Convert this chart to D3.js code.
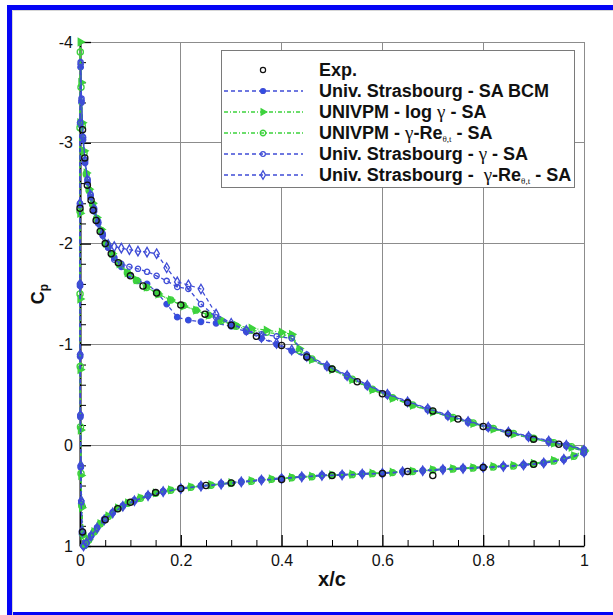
<!DOCTYPE html>
<html>
<head>
<meta charset="utf-8">
<script src="https://cdn.jsdelivr.net/npm/d3@7"></script>
<style>
  html, body { margin: 0; padding: 0; background: #fff; }
  svg { display: block; }
</style>
</head>
<body>
<svg id="chart" width="613" height="615"></svg>
<script>
// ---- Axis ticks ----
const xTicks = [0, 0.2, 0.4, 0.6, 0.8, 1];
const xMinorTicks = [0.05, 0.1, 0.15, 0.25, 0.3, 0.35, 0.45, 0.5, 0.55, 0.65, 0.7, 0.75, 0.85, 0.9, 0.95];
const yTicks = [-4, -3, -2, -1, 0, 1];
const yMinorTicks = [-3.8, -3.6, -3.4, -3.2, -2.8, -2.6, -2.4, -2.2, -1.8, -1.6, -1.4, -1.2,
                     -0.8, -0.6, -0.4, -0.2, 0.2, 0.4, 0.6, 0.8];

// ---- Experiment ----
const expUpperX  = [0.0, 0.005, 0.0095, 0.0146, 0.022, 0.026, 0.032, 0.04, 0.05, 0.062, 0.076, 0.1, 0.125, 0.152,
                    0.2, 0.248, 0.3, 0.35, 0.4, 0.45, 0.5, 0.55, 0.6, 0.65, 0.7, 0.75, 0.8, 0.85, 0.9, 0.95];
const expUpperCp = [-2.35, -3.13, -2.85, -2.58, -2.43, -2.33, -2.23, -2.12, -2.0, -1.9, -1.81, -1.68, -1.58, -1.51,
                    -1.39, -1.3, -1.19, -1.08, -0.99, -0.875, -0.755, -0.63, -0.51, -0.42, -0.34, -0.26, -0.185, -0.12, -0.06, -0.01];
const expLowerX  = [0.005, 0.05, 0.075, 0.1, 0.15, 0.2, 0.25, 0.3, 0.4, 0.5, 0.6, 0.65, 0.7, 0.8, 0.9];
const expLowerCp = [0.86, 0.74, 0.63, 0.567, 0.47, 0.43, 0.4, 0.375, 0.34, 0.3, 0.28, 0.26, 0.3, 0.22, 0.19];

// ---- Univ. Strasbourg stations (lower: trailing edge -> stagnation; upper: nose -> trailing edge) ----
const strasLowerX = [1.0, 0.96, 0.92, 0.88, 0.84, 0.80, 0.76, 0.72, 0.68, 0.64, 0.60, 0.56, 0.52, 0.48, 0.44, 0.40,
                     0.36, 0.32, 0.28, 0.24, 0.20, 0.165, 0.135, 0.108, 0.085, 0.065, 0.048, 0.034, 0.022, 0.013, 0.007];
const strasUpperX = [0.004, 0.0025, 0.0015, 0.0008, 0.0003, 0.0001, 0.0, 0.0003, 0.0012, 0.003, 0.006, 0.010, 0.015,
                     0.021, 0.028, 0.036, 0.045, 0.056, 0.068, 0.082, 0.098, 0.115, 0.133, 0.152, 0.172, 0.193, 0.215,
                     0.24, 0.27, 0.30, 0.33, 0.36, 0.39, 0.42, 0.45, 0.49, 0.53, 0.57, 0.61, 0.65, 0.69, 0.73, 0.77,
                     0.81, 0.85, 0.89, 0.93, 0.965, 1.0];

// SA BCM
const bcmLowerCp = [0.06, 0.135, 0.17, 0.19, 0.205, 0.215, 0.225, 0.235, 0.25, 0.26, 0.275, 0.28, 0.29, 0.295, 0.31, 0.325,
                    0.34, 0.36, 0.38, 0.40, 0.425, 0.455, 0.495, 0.545, 0.60, 0.665, 0.735, 0.815, 0.895, 0.965, 1.0];
const bcmUpperCp = [0.88, 0.58, 0.22, -0.28, -0.88, -1.58, -2.38, -3.18, -3.75, -3.4, -3.03, -2.8, -2.61,
                    -2.46, -2.32, -2.2, -2.08, -1.96, -1.86, -1.77, -1.69, -1.63, -1.60, -1.52, -1.40, -1.27, -1.24,
                    -1.225, -1.21, -1.18, -1.125, -1.06, -1.0, -0.935, -0.87, -0.775, -0.68, -0.585, -0.495, -0.42, -0.35, -0.285, -0.225,
                    -0.17, -0.12, -0.075, -0.03, 0.01, 0.06];

// gamma - SA
const gsaLowerCp = [0.08, 0.145, 0.18, 0.2, 0.212, 0.222, 0.232, 0.243, 0.256, 0.267, 0.28, 0.288, 0.297, 0.303, 0.317, 0.332,
                    0.348, 0.367, 0.388, 0.408, 0.433, 0.463, 0.503, 0.553, 0.608, 0.673, 0.743, 0.823, 0.903, 0.972, 1.0];
const gsaUpperCp = [0.86, 0.56, 0.21, -0.3, -0.9, -1.6, -2.4, -3.2, -3.8, -3.44, -3.06, -2.83, -2.64,
                    -2.49, -2.35, -2.22, -2.1, -1.96, -1.84, -1.80, -1.77, -1.75, -1.72, -1.68, -1.63, -1.57, -1.55,
                    -1.40, -1.27, -1.20, -1.14, -1.10, -1.08, -1.06, -0.90, -0.79, -0.695, -0.60, -0.51, -0.435, -0.365, -0.30, -0.24,
                    -0.185, -0.135, -0.09, -0.045, -0.005, 0.04];

// gamma-Re_theta,t - SA
const greLowerCp = [0.07, 0.14, 0.176, 0.196, 0.21, 0.221, 0.231, 0.241, 0.254, 0.264, 0.278, 0.286, 0.295, 0.301, 0.314, 0.33,
                    0.346, 0.364, 0.386, 0.406, 0.431, 0.461, 0.5, 0.551, 0.606, 0.671, 0.741, 0.821, 0.9, 0.97, 1.0];
const greUpperCp = [0.85, 0.55, 0.2, -0.3, -0.9, -1.6, -2.4, -3.2, -3.78, -3.42, -3.05, -2.82, -2.63,
                    -2.48, -2.34, -2.21, -2.09, -1.99, -1.97, -1.955, -1.94, -1.925, -1.915, -1.90, -1.76, -1.62, -1.59,
                    -1.55, -1.30, -1.21, -1.14, -1.07, -1.01, -0.945, -0.88, -0.785, -0.69, -0.595, -0.505, -0.43, -0.36, -0.295, -0.235,
                    -0.18, -0.13, -0.085, -0.04, 0.0, 0.05];

// ---- UNIVPM stations ----
const univpmLowerX = [1.0, 0.98, 0.94, 0.90, 0.86, 0.82, 0.78, 0.74, 0.70, 0.66, 0.62, 0.58, 0.54, 0.50, 0.46, 0.42,
                      0.38, 0.34, 0.30, 0.26, 0.22, 0.18, 0.15, 0.12, 0.095, 0.075, 0.056, 0.04, 0.028, 0.017, 0.009];
const univpmUpperX = [0.006, 0.0035, 0.002, 0.001, 0.0004, 0.0001, 0.0, 0.0, 0.0006, 0.002, 0.0045, 0.008, 0.0125,
                      0.018, 0.025, 0.033, 0.042, 0.052, 0.064, 0.078, 0.094, 0.112, 0.132, 0.155, 0.18, 0.205,
                      0.23, 0.255, 0.28, 0.31, 0.34, 0.37, 0.40, 0.42, 0.435, 0.46, 0.50, 0.54, 0.58, 0.62, 0.66,
                      0.70, 0.74, 0.78, 0.82, 0.86, 0.90, 0.94, 0.975, 1.0];

// log gamma - SA
const lgLowerCp = [0.05, 0.105, 0.15, 0.18, 0.2, 0.21, 0.222, 0.232, 0.243, 0.257, 0.268, 0.278, 0.288, 0.296, 0.308, 0.32,
                   0.335, 0.353, 0.373, 0.393, 0.413, 0.443, 0.473, 0.522, 0.572, 0.622, 0.702, 0.778, 0.858, 0.938, 0.99];
const lgUpperCp = [0.9, 0.62, 0.3, -0.15, -0.75, -1.45, -2.3, -3.2, -4.0, -3.6, -3.2, -2.92, -2.7,
                   -2.54, -2.4, -2.26, -2.14, -2.0, -1.9, -1.80, -1.71, -1.64, -1.57, -1.50, -1.44, -1.38,
                   -1.34, -1.29, -1.24, -1.19, -1.16, -1.14, -1.12, -1.10, -0.96, -0.85, -0.75, -0.65, -0.55, -0.465, -0.395,
                   -0.33, -0.27, -0.215, -0.16, -0.11, -0.065, -0.02, 0.02, 0.06];

// gamma-Re_theta,t - SA
const grLowerCp = [0.06, 0.11, 0.157, 0.187, 0.206, 0.217, 0.227, 0.237, 0.247, 0.262, 0.272, 0.282, 0.292, 0.299, 0.312, 0.324,
                   0.339, 0.357, 0.377, 0.397, 0.417, 0.447, 0.477, 0.527, 0.577, 0.627, 0.707, 0.782, 0.862, 0.942, 0.995];
const grUpperCp = [0.88, 0.6, 0.28, -0.18, -0.78, -1.5, -2.32, -3.15, -3.9, -3.55, -3.17, -2.9, -2.69,
                   -2.53, -2.39, -2.25, -2.13, -2.0, -1.9, -1.8, -1.71, -1.635, -1.565, -1.5, -1.44, -1.385,
                   -1.34, -1.29, -1.235, -1.18, -1.14, -1.12, -1.10, -1.08, -0.94, -0.855, -0.755, -0.655, -0.555, -0.47, -0.40,
                   -0.335, -0.275, -0.22, -0.165, -0.115, -0.07, -0.025, 0.015, 0.055];

// ---- Legend labels ----
const seriesNames = ["Exp.", "Univ. Strasbourg - SA BCM", "UNIVPM - log γ - SA", "UNIVPM - γ-Reθ,t - SA",
                     "Univ. Strasbourg - γ - SA", "Univ. Strasbourg -  γ-Reθ,t - SA"];

// ---- Styling ----
const BLUE = "#3f4cd6";
const BLUE_MK = "#2f4fe4";
const GREEN = "#3dd23d";
const FONT = "'Liberation Sans', Arial, Helvetica, sans-serif";

const svg = d3.select("#chart");
svg.append("rect").attr("width", 613).attr("height", 615).attr("fill", "#fff");

// page frame
svg.append("rect").attr("x", 7).attr("y", 5).attr("width", 606).attr("height", 5).attr("fill", "#0505f5");
svg.append("rect").attr("x", 7).attr("y", 5).attr("width", 5).attr("height", 610).attr("fill", "#0505f5");
svg.append("rect").attr("x", 7).attr("y", 612).attr("width", 606).attr("height", 3).attr("fill", "#0505f5");
svg.append("path").attr("d", "M12.5,615V10.5H613").attr("fill", "none").attr("stroke", "#d6d6d6").attr("stroke-width", 1);

const x = d3.scaleLinear().domain([0, 1]).range([80, 584]);
const y = d3.scaleLinear().domain([-4, 1]).range([42, 546]);

// grid
const grid = svg.append("g").attr("stroke", "#8c8c8c").attr("stroke-width", 1).attr("shape-rendering", "crispEdges");
grid.selectAll("line.v").data(xTicks).join("line").attr("class", "v")
  .attr("x1", d => x(d)).attr("x2", d => x(d)).attr("y1", y(-4)).attr("y2", y(1));
grid.selectAll("line.h").data(yTicks).join("line").attr("class", "h")
  .attr("y1", d => y(d)).attr("y2", d => y(d)).attr("x1", x(0)).attr("x2", x(1));

// axes
function styleAxis(g, w) {
  g.select(".domain").attr("stroke", "#000").attr("stroke-width", w);
  g.selectAll(".tick line").attr("stroke", "#000").attr("stroke-width", 1.3);
  g.selectAll(".tick text").attr("font-family", FONT).attr("font-size", 16).attr("fill", "#111");
}
const gxMinor = svg.append("g").attr("transform", `translate(0,${y(1)})`)
  .call(d3.axisBottom(x).tickValues(xMinorTicks).tickSize(-6).tickSizeOuter(0).tickFormat(""));
gxMinor.select(".domain").remove();
gxMinor.selectAll(".tick line").attr("stroke", "#000").attr("stroke-width", 1);
const gyMinor = svg.append("g").attr("transform", `translate(${x(0)},0)`)
  .call(d3.axisLeft(y).tickValues(yMinorTicks).tickSize(-6).tickSizeOuter(0).tickFormat(""));
gyMinor.select(".domain").remove();
gyMinor.selectAll(".tick line").attr("stroke", "#000").attr("stroke-width", 1);

const gx = svg.append("g").attr("transform", `translate(0,${y(1)})`)
  .call(d3.axisBottom(x).tickValues(xTicks).tickSize(-11).tickSizeOuter(0).tickPadding(9).tickFormat(d => String(d)));
styleAxis(gx, 1.6);
const gy = svg.append("g").attr("transform", `translate(${x(0)},0)`)
  .call(d3.axisLeft(y).tickValues(yTicks).tickSize(-11).tickSizeOuter(0).tickPadding(7).tickFormat(d => String(d)));
styleAxis(gy, 2);

// axis titles
svg.append("text").attr("x", 332).attr("y", 586).attr("text-anchor", "middle")
  .attr("font-family", FONT).attr("font-weight", "bold").attr("font-size", 20).attr("fill", "#111").text("x/c");
const cpLabel = svg.append("text").attr("transform", "translate(44,294) rotate(-90)").attr("text-anchor", "middle")
  .attr("font-family", FONT).attr("font-weight", "bold").attr("font-size", 18).attr("fill", "#111");
cpLabel.append("tspan").text("C");
cpLabel.append("tspan").attr("font-size", 12).attr("dy", 4).text("p");

// series
const series = [
  { name: seriesNames[1], lx: strasLowerX, lc: bcmLowerCp, ux: strasUpperX, uc: bcmUpperCp,
    color: BLUE, dash: "4,3", symbol: d3.symbolCircle, size: 24, fill: BLUE_MK, rot: 0 },
  { name: seriesNames[2], lx: univpmLowerX, lc: lgLowerCp, ux: univpmUpperX, uc: lgUpperCp,
    color: GREEN, dash: "4,2,1,2", symbol: d3.symbolTriangle, size: 22, fill: GREEN, rot: 90 },
  { name: seriesNames[3], lx: univpmLowerX, lc: grLowerCp, ux: univpmUpperX, uc: grUpperCp,
    color: GREEN, dash: "4,2,1,2", symbol: d3.symbolCircle, size: 30, fill: "none", rot: 0 },
  { name: seriesNames[4], lx: strasLowerX, lc: gsaLowerCp, ux: strasUpperX, uc: gsaUpperCp,
    color: BLUE, dash: "4,3", symbol: d3.symbolCircle, size: 22, fill: "none", rot: 0 },
  { name: seriesNames[5], lx: strasLowerX, lc: greLowerCp, ux: strasUpperX, uc: greUpperCp,
    color: BLUE, dash: "4,3", symbol: d3.symbolDiamond, size: 26, fill: "none", rot: 0 }
];

const line = d3.line().x(d => x(d[0])).y(d => y(d[1]));
const plot = svg.append("g");
series.forEach(s => {
  const pts = s.lx.map((v, i) => [v, s.lc[i]]).concat(s.ux.map((v, i) => [v, s.uc[i]]));
  const g = plot.append("g");
  g.append("path").datum(pts).attr("d", line).attr("fill", "none")
    .attr("stroke", s.color).attr("stroke-width", 1.3).attr("stroke-dasharray", s.dash);
  const sym = d3.symbol().type(s.symbol).size(s.size);
  g.selectAll("path.m").data(pts).join("path").attr("class", "m")
    .attr("transform", d => `translate(${x(d[0])},${y(d[1])}) rotate(${s.rot})`)
    .attr("d", sym)
    .attr("fill", s.fill).attr("stroke", s.color).attr("stroke-width", 1.3);
});

// experiment markers
const expPts = expUpperX.map((v, i) => [v, expUpperCp[i]]).concat(expLowerX.map((v, i) => [v, expLowerCp[i]]));
plot.append("g").selectAll("circle").data(expPts).join("circle")
  .attr("cx", d => x(d[0])).attr("cy", d => y(d[1])).attr("r", 3.1)
  .attr("fill", "none").attr("stroke", "#111").attr("stroke-width", 1.3);

// legend
const lg = svg.append("g");
lg.append("rect").attr("x", 221.5).attr("y", 50.5).attr("width", 353).attr("height", 137)
  .attr("fill", "#fff").attr("stroke", "#7a7a7a").attr("stroke-width", 1);
const rowY = i => 70 + i * 21;
lg.append("circle").attr("cx", 263).attr("cy", rowY(0)).attr("r", 2.6)
  .attr("fill", "none").attr("stroke", "#111").attr("stroke-width", 1.2);

function legendText(i, txt) {
  const t = lg.append("text").attr("x", 319).attr("y", rowY(i) + 6)
    .attr("font-family", FONT).attr("font-weight", "bold").attr("font-size", 18).attr("fill", "#111")
    .attr("xml:space", "preserve").style("white-space", "pre");
  // Greek letters in a serif face, the theta,t index as a small subscript
  txt.split(/(γ|θ,t)/).forEach(p => {
    if (p === "γ") {
      t.append("tspan").attr("font-family", "'Liberation Serif', 'DejaVu Serif', serif")
        .attr("font-weight", "normal").attr("font-size", 19).text("γ");
    } else if (p === "θ,t") {
      t.append("tspan").attr("font-family", "'Liberation Serif', 'DejaVu Serif', serif")
        .attr("font-weight", "normal").attr("font-size", 9).attr("dy", 2.5).text("θ,t");
    } else if (p.length) {
      const prev = t.node().lastChild;
      const shifted = prev && prev.textContent === "θ,t";
      t.append("tspan").attr("dy", shifted ? -2.5 : null).text(p);
    }
  });
}
legendText(0, seriesNames[0]);
series.forEach((s, k) => {
  const i = k + 1, yy = rowY(i);
  lg.append("line").attr("x1", 224).attr("x2", 303).attr("y1", yy).attr("y2", yy)
    .attr("stroke", s.color).attr("stroke-width", 1.3).attr("stroke-dasharray", s.dash);
  lg.append("path").attr("transform", `translate(263,${yy}) rotate(${s.rot})`)
    .attr("d", d3.symbol().type(s.symbol).size(s.size * 0.8))
    .attr("fill", s.fill).attr("stroke", s.color).attr("stroke-width", 1.3);
  legendText(i, s.name);
});
</script>
</body>
</html>
